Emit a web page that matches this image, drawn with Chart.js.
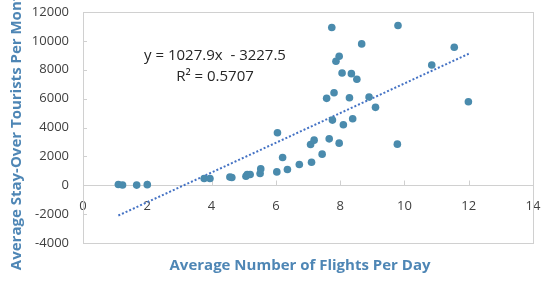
<!DOCTYPE html>
<html>
<head>
<meta charset="utf-8">
<script src="https://cdn.jsdelivr.net/npm/chart.js@4.4.1/dist/chart.umd.min.js"></script>
<style>
  html, body { margin: 0; padding: 0; background: #fff; }
  #wrap { width: 547px; height: 282px; position: relative; }
</style>
</head>
<body>
<div id="wrap"><canvas id="chartVuelos"></canvas></div>
<script>
// datos (vuelos por dia vs turistas por mes)
const flightsPerDay = [
  1.10, 1.23, 1.67, 2.00, 3.77, 3.95, 4.57, 4.63, 5.07, 5.11, 5.20,
  5.51, 5.53, 6.03, 6.05, 6.21, 6.36, 6.73, 7.08, 7.11, 7.19, 7.44,
  7.66, 7.76, 7.97, 8.10, 8.39, 9.10, 9.78, 7.58, 7.81, 8.29, 8.90,
  7.74, 9.80, 8.67, 7.97, 7.87, 8.06, 8.35, 8.52, 11.55, 10.85, 11.99
];
const touristsPerMonth = [
  50, 20, 10, 40, 465, 465, 576, 535, 625, 743, 743,
  812, 1132, 924, 3632, 1924, 1090, 1437, 2826, 1597, 3125, 2153,
  3215, 4514, 2917, 4188, 4604, 5396, 2847, 6019, 6412, 6065, 6111,
  10924, 11063, 9792, 8935, 8588, 7778, 7731, 7338, 9562, 8333, 5785
];

// linea de tendencia (extremos)
const trendX = [1.1, 12];
const trendY = [-2097, 9107];

const xTicks = [0, 2, 4, 6, 8, 10, 12, 14];
const yTicks = [-4000, -2000, 0, 2000, 4000, 6000, 8000, 10000, 12000];

const equationText = "y = 1027.9x  - 3227.5";
const rSquaredText = "R\u00B2 = 0.5707";
const xTitle = "Average Number of Flights Per Day";
const yTitle = "Average Stay-Over Tourists Per Month";

const FONT = "'Open Sans', 'Noto Sans', sans-serif";
const BORDE = "#d0d0d0";

const puntos = flightsPerDay.map((x, i) => ({ x: x, y: touristsPerMonth[i] }));
const tendencia = trendX.map((x, i) => ({ x: x, y: trendY[i] }));

// marco, marcas interiores y textos extra
const extras = {
  id: "extras",
  beforeDatasetsDraw(chart) {
    const ctx = chart.ctx;
    const a = chart.chartArea;
    const sx = chart.scales.x;
    const sy = chart.scales.y;
    ctx.save();
    ctx.strokeStyle = BORDE;
    ctx.lineWidth = 1;
    ctx.strokeRect(Math.round(a.left) + 0.5, Math.round(a.top) + 0.5,
      Math.round(a.right - a.left), Math.round(a.bottom - a.top));
    // marcas hacia dentro
    const y0 = Math.round(sy.getPixelForValue(0)) + 0.5;
    ctx.beginPath();
    xTicks.forEach((v) => {
      const px = Math.round(sx.getPixelForValue(v)) + 0.5;
      ctx.moveTo(px, y0);
      ctx.lineTo(px, y0 - 5);
    });
    yTicks.forEach((v) => {
      const py = Math.round(sy.getPixelForValue(v)) + 0.5;
      ctx.moveTo(a.left, py);
      ctx.lineTo(a.left + 4, py);
    });
    ctx.stroke();
    ctx.restore();
  },
  afterDraw(chart) {
    const ctx = chart.ctx;
    ctx.save();
    ctx.textAlign = "center";
    ctx.textBaseline = "middle";
    ctx.fillStyle = "#262626";
    ctx.font = "15px " + FONT;
    ctx.fillText(equationText, 215, 56);
    ctx.fillText(rSquaredText, 215, 77);
    ctx.fillStyle = "#4e86b5";
    ctx.font = "bold 15px " + FONT;
    ctx.fillText(xTitle, 300, 266);
    ctx.restore();
  },
};

new Chart(document.getElementById("chartVuelos").getContext("2d"), {
  type: "scatter",
  data: {
    datasets: [
      {
        label: "Tourists",
        data: puntos,
        backgroundColor: "#4a8bad",
        borderWidth: 0,
        pointRadius: 3.8,
        pointHoverRadius: 3.8,
        order: 1,
      },
      {
        label: "Linear",
        type: "line",
        data: tendencia,
        showLine: true,
        borderColor: "#4472c4",
        borderWidth: 2,
        borderDash: [2, 2],
        pointRadius: 0,
        fill: false,
        order: 2,
      },
    ],
  },
  options: {
    responsive: true,
    maintainAspectRatio: false,
    animation: false,
    events: [],
    layout: {
      padding: { left: 0, right: 14, top: 12, bottom: 39 },
    },
    plugins: {
      legend: { display: false },
      tooltip: { enabled: false },
    },
    scales: {
      x: {
        type: "linear",
        position: { y: 0 },
        min: 0,
        max: 14,
        afterBuildTicks: (s) => { s.ticks = xTicks.map((v) => ({ value: v })); },
        grid: { display: false },
        border: { display: true, color: BORDE },
        ticks: {
          color: "#404040",
          font: { family: FONT, size: 13 },
          padding: 5,
          maxRotation: 0,
          callback: (v) => String(v),
        },
      },
      y: {
        type: "linear",
        position: "left",
        min: -4000,
        max: 12000,
        afterBuildTicks: (s) => { s.ticks = yTicks.map((v) => ({ value: v })); },
        afterFit: (s) => { s.width = 83; },
        grid: { display: false, drawTicks: true, tickLength: 12 },
        border: { display: false },
        ticks: {
          color: "#404040",
          font: { family: FONT, size: 13 },
          padding: 2,
          callback: (v) => String(v),
        },
        title: {
          display: true,
          text: yTitle,
          color: "#4e86b5",
          font: { family: FONT, size: 15, weight: "bold" },
          padding: { top: 8, bottom: 0 },
        },
      },
    },
  },
  plugins: [extras],
});
</script>
</body>
</html>
